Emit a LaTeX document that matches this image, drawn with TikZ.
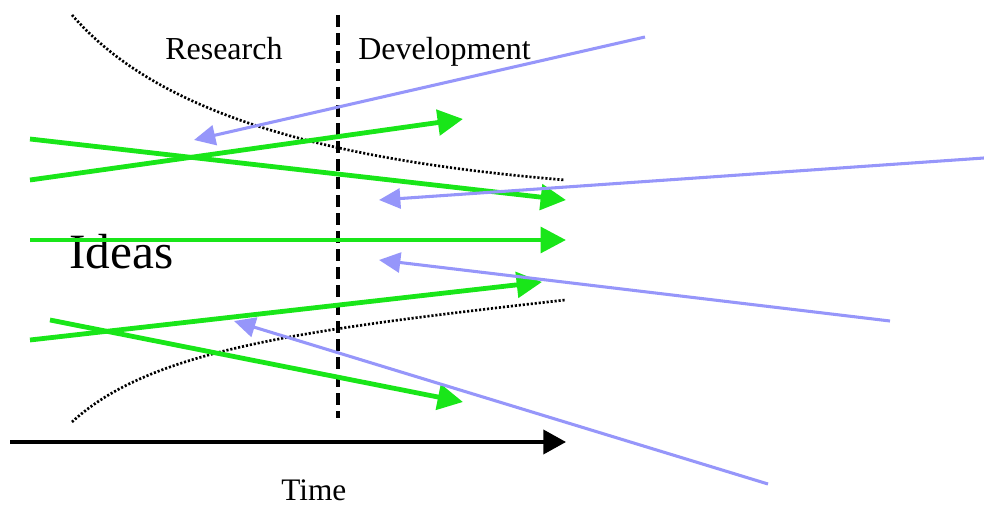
\documentclass[tikz,border=0pt]{standalone}
\usepackage{fontspec}
\setmainfont{Liberation Serif}
\usetikzlibrary{arrows.meta}
\definecolor{ideagreen}{RGB}{25,230,25}
\definecolor{pullblue}{RGB}{150,150,250}
\tikzset{
  greenarrow/.style={draw=ideagreen, line width=3.6pt, -{Triangle[length=19pt,width=19pt]}},
  bluearrow/.style={draw=pullblue, line width=2.3pt, -{Triangle[length=16pt,width=15pt]}},
  timearrow/.style={draw=black, line width=2.8pt, -{Triangle[length=17pt,width=18pt]}},
  funnel/.style={draw=black, line width=2pt, dash pattern=on 1.6pt off 1.4pt},
  divider/.style={draw=black, line width=2.8pt, dash pattern=on 9pt off 4.5pt},
  lbl/.style={inner sep=0pt, anchor=base west}
}
\begin{document}
\begin{tikzpicture}[x=0.75pt,y=-0.75pt]
\useasboundingbox (0,0) rectangle (984,506);
% texts
\node[lbl, font=\fontsize{24}{28}\selectfont] (research) at (165,60) {Research};
\node[lbl, font=\fontsize{24}{28}\selectfont] (development) at (358,60) {Development};
\node[lbl, font=\fontsize{37}{42}\selectfont] (ideas) at (69,268) {Ideas};
\node[lbl, font=\fontsize{23.5}{28}\selectfont] (time) at (281,500) {Time};
% coordinates
\coordinate (dtop) at (338,15);
\coordinate (dbot) at (338,418);
\coordinate (ft0) at (72,15);
\coordinate (ft1) at (565,180);
\coordinate (fb0) at (72,422);
\coordinate (fb1) at (565,300);
\coordinate (t0) at (10,442);
\coordinate (t1) at (566,442);
\coordinate (g1a) at (30,180); \coordinate (g1b) at (463,119);
\coordinate (g2a) at (30,139); \coordinate (g2b) at (566,200);
\coordinate (g3a) at (30,240); \coordinate (g3b) at (566,240);
\coordinate (g4a) at (30,340); \coordinate (g4b) at (542,282);
\coordinate (g5a) at (50,320); \coordinate (g5b) at (463,402);
\coordinate (b1a) at (645,37); \coordinate (b1b) at (194,140);
\coordinate (b2a) at (984,158); \coordinate (b2b) at (379,200);
\coordinate (b3a) at (890,321); \coordinate (b3b) at (379,260);
\coordinate (b4a) at (768,484); \coordinate (b4b) at (234,321);
% funnel curves
\draw[funnel] (ft0) .. controls (150,105) and (300,158) .. (ft1);
\draw[funnel] (fb0) .. controls (150,350) and (300,330) .. (fb1);
% divider
\draw[divider] (dtop) -- (dbot);
% time axis
\draw[timearrow] (t0) -- (t1);
% green idea arrows
\draw[greenarrow] (g1a) -- (g1b);
\draw[greenarrow] (g2a) -- (g2b);
\draw[greenarrow] (g3a) -- (g3b);
\draw[greenarrow] (g4a) -- (g4b);
\draw[greenarrow] (g5a) -- (g5b);
% blue arrows
\draw[bluearrow] (b1a) -- (b1b);
\draw[bluearrow] (b2a) -- (b2b);
\draw[bluearrow] (b3a) -- (b3b);
\draw[bluearrow] (b4a) -- (b4b);
\end{tikzpicture}
\end{document}
